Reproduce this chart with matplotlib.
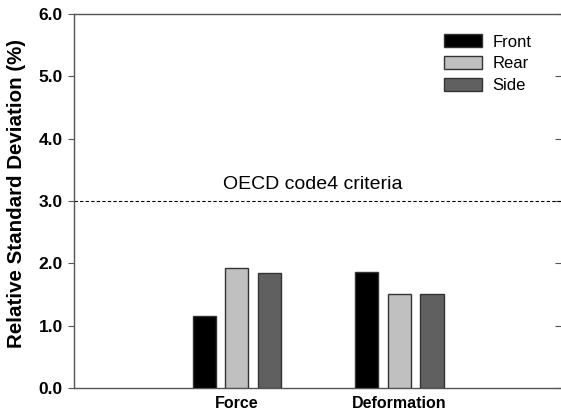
import matplotlib
matplotlib.use("Agg")
import matplotlib.pyplot as plt
import numpy as np

plt.rcParams["font.family"] = ["Liberation Sans", "DejaVu Sans"]

categories = ["Force", "Deformation"]
series_names = ["Front", "Rear", "Side"]
front = [1.15, 1.86]
rear = [1.93, 1.51]
side = [1.85, 1.51]
criteria_value = 3.0
criteria_label = "OECD code4 criteria"
yticks = [0.0, 1.0, 2.0, 3.0, 4.0, 5.0, 6.0]

colors = ["#000000", "#c0c0c0", "#606060"]

fig = plt.figure(figsize=(5.61, 4.18), dpi=100)
ax = fig.add_axes([74/561, 1-388/418, 1 - 74/561 + 0.002, (388-14)/418])

x = np.array([1, 2])
width = 0.142
offset = 0.2
for i, (vals, name, c) in enumerate(zip([front, rear, side], series_names, colors)):
    ax.bar(x + (i - 1) * offset, vals, width, color=c, edgecolor="#333333",
           linewidth=1.0, label=name, zorder=3)

ax.axhline(criteria_value, color="black", linestyle=(0, (3, 2)), linewidth=0.8, zorder=2)
ax.text(1.47, 3.27, criteria_label, ha="center", va="center", fontsize=14)

ax.set_xlim(0, 3)
ax.set_ylim(0, 6)
ax.set_yticks(yticks)
ax.set_yticklabels([f"{v:.1f}" for v in yticks], fontweight="bold", fontsize=12.5)
ax.set_xticks(x)
ax.set_xticklabels(categories, fontweight="bold", fontsize=11.5)
ax.tick_params(axis="x", length=0, pad=6)
ax.tick_params(axis="y", direction="out", length=4, color="#555555", pad=4)
ax.set_ylabel("Relative Standard Deviation (%)", fontweight="bold", fontsize=14.8)
ax.yaxis.set_label_coords(-0.098, 0.521)

sec = ax.secondary_yaxis("right")
sec.set_yticks(yticks)
sec.tick_params(axis="y", direction="in", length=5, color="#555555", labelright=False)
sec.spines["right"].set_visible(False)

for s in ["left", "bottom", "top"]:
    ax.spines[s].set_color("#555555")
    ax.spines[s].set_linewidth(1.0)
ax.spines["right"].set_visible(False)

leg = ax.legend(loc="upper left", bbox_to_anchor=(0.744, 0.964), borderaxespad=0,
                frameon=False, fontsize=12, handlelength=2.3, handleheight=0.85,
                labelspacing=0.39, handletextpad=0.6)

fig.savefig("out.png", dpi=100)
